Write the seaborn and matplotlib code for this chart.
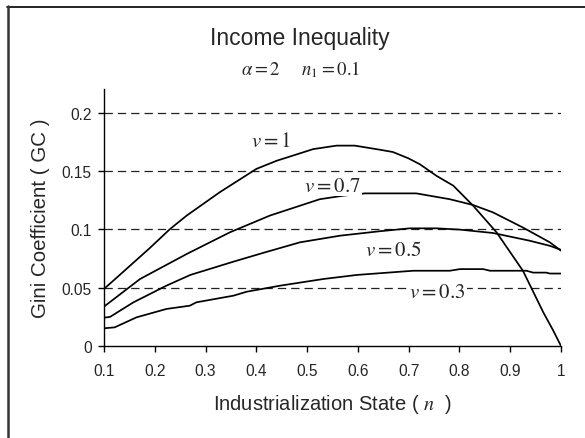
import numpy as np
import pandas as pd
import seaborn as sns
import matplotlib
matplotlib.use("Agg")
import matplotlib.pyplot as plt
from matplotlib.lines import Line2D

# ---- data ----
x_v1 = [0.1, 0.122, 0.19, 0.23, 0.263, 0.328, 0.40, 0.44, 0.512, 0.558, 0.594, 0.643,
        0.669, 0.70, 0.722, 0.755, 0.788, 0.827, 0.873, 0.925, 0.965, 0.985, 1.0]
y_v1 = [0.049, 0.0575, 0.084, 0.1004, 0.112, 0.132, 0.152, 0.159, 0.169, 0.172, 0.172, 0.1685,
        0.1665, 0.161, 0.156, 0.146, 0.1376, 0.1204, 0.0976, 0.0646, 0.029, 0.013, 0.0]

x_v07 = [0.1, 0.171, 0.263, 0.348, 0.427, 0.525, 0.571, 0.614, 0.715, 0.781, 0.827,
         0.866, 0.925, 0.978, 1.0]
y_v07 = [0.0338, 0.0575, 0.079, 0.0976, 0.112, 0.126, 0.129, 0.131, 0.131, 0.126, 0.121,
         0.1147, 0.1017, 0.089, 0.0818]

x_v05 = [0.1, 0.112, 0.158, 0.223, 0.27, 0.355, 0.414, 0.486, 0.565, 0.643, 0.702,
         0.755, 0.801, 0.866, 0.938, 0.978, 1.0]
y_v05 = [0.0243, 0.025, 0.0375, 0.0518, 0.061, 0.0724, 0.080, 0.089, 0.0947, 0.0985, 0.101,
         0.101, 0.0999, 0.097, 0.0904, 0.086, 0.0825]

x_v03 = [0.1, 0.121, 0.164, 0.223, 0.269, 0.282, 0.355, 0.381, 0.447, 0.532, 0.598,
         0.709, 0.781, 0.801, 0.847, 0.860, 0.932, 0.945, 0.971, 0.978, 1.0]
y_v03 = [0.0152, 0.016, 0.0246, 0.0318, 0.0346, 0.0375, 0.0432, 0.0466, 0.0518, 0.0575, 0.061,
         0.0646, 0.0646, 0.066, 0.066, 0.0646, 0.0646, 0.063, 0.063, 0.0622, 0.0622]

series_names = ["v=1", "v=0.7", "v=0.5", "v=0.3"]
x_ticks = [0.1, 0.2, 0.3, 0.4, 0.5, 0.6, 0.7, 0.8, 0.9, 1.0]
x_tick_labels = ["0.1", "0.2", "0.3", "0.4", "0.5", "0.6", "0.7", "0.8", "0.9", "1"]
y_ticks = [0, 0.05, 0.1, 0.15, 0.2]
y_tick_labels = ["0", "0.05", "0.1", "0.15", "0.2"]
grid_levels = [0.05, 0.1, 0.15, 0.2]

frames = []
for name, xs, ys in zip(series_names, [x_v1, x_v07, x_v05, x_v03], [y_v1, y_v07, y_v05, y_v03]):
    frames.append(pd.DataFrame({"n": xs, "gc": ys, "series": name}))
df = pd.concat(frames, ignore_index=True)

# ---- style ----
sns.set_style("white")
plt.rcParams["font.family"] = ["Liberation Sans", "DejaVu Sans"]
plt.rcParams["mathtext.fontset"] = "stix"
plt.rcParams["lines.scale_dashes"] = False

fig = plt.figure(figsize=(5.85, 4.39), dpi=100)
ax = fig.add_axes([104 / 585, 1 - 347 / 439, (561 - 104) / 585, (347 - 90) / 439])

for lvl in grid_levels:
    ax.axhline(lvl, color="#222222", lw=0.9, linestyle=(0, (6.0, 3.6)), zorder=1)

sns.lineplot(data=df, x="n", y="gc", units="series", estimator=None, sort=False,
             color="black", lw=1.25, ax=ax, zorder=2, legend=False)

ax.set_xlim(0.1, 1.0)
ax.set_ylim(0, 0.2206)
ax.set_xticks(x_ticks)
ax.set_xticklabels(x_tick_labels)
ax.set_yticks(y_ticks)
ax.set_yticklabels(y_tick_labels)
ax.tick_params(axis="both", direction="out", length=4, width=1, color="black",
               labelsize=11.2, pad=5, bottom=True, left=True)
ax.tick_params(axis="x", pad=8)
for s in ["top", "right"]:
    ax.spines[s].set_visible(False)
for s in ["left", "bottom"]:
    ax.spines[s].set_color("black")
    ax.spines[s].set_linewidth(1.0)

ax.set_xlabel("Industrialization State ( $n$  )", fontsize=14.5, labelpad=10)
ax.set_ylabel("Gini Coefficient ( GC )", fontsize=14.8, labelpad=8)

# curve labels
lab_kw = dict(fontsize=15, ha="center", va="center", zorder=3)
ax.text(0.429, 0.1768, "$v = 1$", **lab_kw)
ax.text(0.550, 0.138, "$v = 0.7$", bbox=dict(facecolor="white", edgecolor="none", pad=1.0), **lab_kw)
ax.text(0.669, 0.083, "$v = 0.5$", **lab_kw)
ax.text(0.756, 0.047, "$v = 0.3$", bbox=dict(facecolor="white", edgecolor="none", pad=1.0), **lab_kw)

# titles
fig.text(300 / 585, 1 - 38 / 439, "Income Inequality", fontsize=16.5, ha="center", va="center")
fig.text(301 / 585, 1 - 70 / 439, r"$\alpha = 2\quad\ \ n_1 = 0.1$", fontsize=13.5,
         ha="center", va="center")

# outer frame (top and left only)
fig.add_artist(Line2D([7 / 585, 1.0], [1 - 7.5 / 439, 1 - 7.5 / 439], transform=fig.transFigure,
                      color="black", lw=1.2))
fig.add_artist(Line2D([8 / 585, 8 / 585], [0, 1 - 7 / 439], transform=fig.transFigure,
                      color="#333333", lw=1.8))

fig.savefig("out.png", dpi=100)
